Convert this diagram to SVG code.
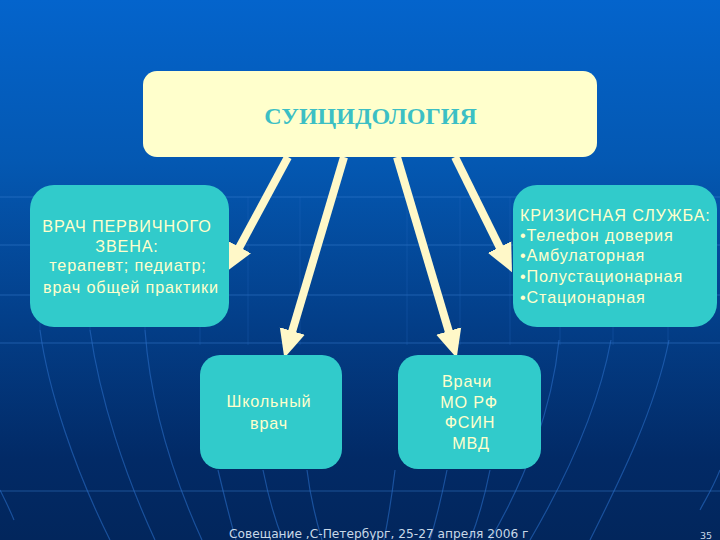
<svg xmlns="http://www.w3.org/2000/svg" width="720" height="540" viewBox="0 0 720 540">
<style>
.n{fill:#31cbcb}
.t{font-family:"Liberation Sans",Arial,sans-serif;font-size:16.200px;fill:#ffffcc;letter-spacing:.85px;text-anchor:middle}
.l{text-anchor:start}
.g{stroke:#2a6cc4;stroke-width:1.200;fill:none;opacity:.6}
.v{stroke:#2a6cc4;stroke-width:1;fill:none;opacity:.3}
.h{stroke:#3f86d8;stroke-width:1;opacity:.45}
.a{stroke:#fff8c8;stroke-width:8;fill:none;marker-end:url(#ah)}
</style>
<defs>
<linearGradient id="bg" x1="0" y1="0" x2="0" y2="1">
<stop offset="0" stop-color="#0464cc"/><stop offset=".3" stop-color="#0458b2"/><stop offset=".6" stop-color="#033e88"/><stop offset=".85" stop-color="#022a66"/><stop offset="1" stop-color="#02265c"/>
</linearGradient>
<marker id="ah" markerUnits="userSpaceOnUse" markerWidth="30" markerHeight="28" refX="1" refY="14" orient="auto">
<path d="M0 1L28 14L0 27Z" fill="#fff8c8"/>
</marker>
</defs>
<rect width="720" height="540" fill="url(#bg)"/>
<g id="grid">
<path class="h" d="M0 197H720M0 245H720M0 295H720M0 343H720"/>
<path class="h" d="M0 491H720" opacity=".3"/>
<path class="v" d="M40 197V330M90 197V330M145 197V330M200 197V345M248 197V345M300 197V345M407 197V345M460 197V345M510 197V345M560 197V345M613 197V345M668 197V345"/>
<path class="g" d="M40 330C48 390 75 470 110 540M90 330C100 400 125 475 155 540M145 330C150 400 170 470 202 540M218 470C224 495 230 520 236 540M263 470C268 495 275 520 283 540M307 470C310 495 316 520 322 540"/>
<path class="g" d="M395 470C392 495 388 520 384 540M447 470C442 495 436 520 430 540M490 470C485 495 478 520 470 540M559 340C552 410 525 480 490 540M611 340C598 410 565 480 530 540M669 340C655 410 620 480 590 540M720 470C712 490 705 500 700 510M0 490C5 500 10 510 14 520"/>
</g>
<g id="connectors">
<line class="a" x1="288" y1="157" x2="239" y2="248"/>
<line class="a" x1="344" y1="157" x2="292" y2="332"/>
<line class="a" x1="397" y1="157" x2="449" y2="332"/>
<line class="a" x1="455" y1="157" x2="500" y2="248"/>
</g>
<g id="root">
<rect x="143" y="71" width="454" height="86" rx="14" fill="#ffffcc"/>
<text x="370.500" y="124" text-anchor="middle" font-family="'Liberation Serif','Times New Roman',serif" font-weight="700" font-size="24" fill="#3cbfc4">СУИЦИДОЛОГИЯ</text>
</g>
<g id="primary">
<rect class="n" x="30" y="185" width="199" height="142" rx="24"/>
<text class="t" x="127" y="232">ВРАЧ ПЕРВИЧНОГО</text>
<text class="t" x="127" y="252">ЗВЕНА:</text>
<text class="t" x="128" y="271">терапевт; педиатр;</text>
<text class="t" x="131" y="293">врач общей практики</text>
</g>
<g id="crisis">
<rect class="n" x="513" y="185" width="204" height="142" rx="24"/>
<text class="t l" x="520" y="221">КРИЗИСНАЯ СЛУЖБА:</text>
<text class="t l" x="520" y="241">•Телефон доверия</text>
<text class="t l" x="520" y="261">•Амбулаторная</text>
<text class="t l" x="520" y="282">•Полустационарная</text>
<text class="t l" x="520" y="303">•Стационарная</text>
</g>
<g id="school">
<rect class="n" x="200" y="355" width="142" height="114" rx="20"/>
<text class="t" x="269" y="407">Школьный</text>
<text class="t" x="269" y="429">врач</text>
</g>
<g id="agencies">
<rect class="n" x="398" y="355" width="143" height="114" rx="20"/>
<text class="t" x="467" y="387">Врачи</text>
<text class="t" x="469" y="408">МО РФ</text>
<text class="t" x="470" y="428">ФСИН</text>
<text class="t" x="471" y="449">МВД</text>
</g>
<text x="229" y="538" font-family="'DejaVu Sans',Verdana,sans-serif" font-size="12.200" fill="#c8d8e8">Совещание ,С-Петербург, 25-27 апреля 2006 г</text>
<text x="700" y="539" font-family="'DejaVu Sans',Verdana,sans-serif" font-size="9.500" fill="#c8d8e8">35</text>
</svg>
